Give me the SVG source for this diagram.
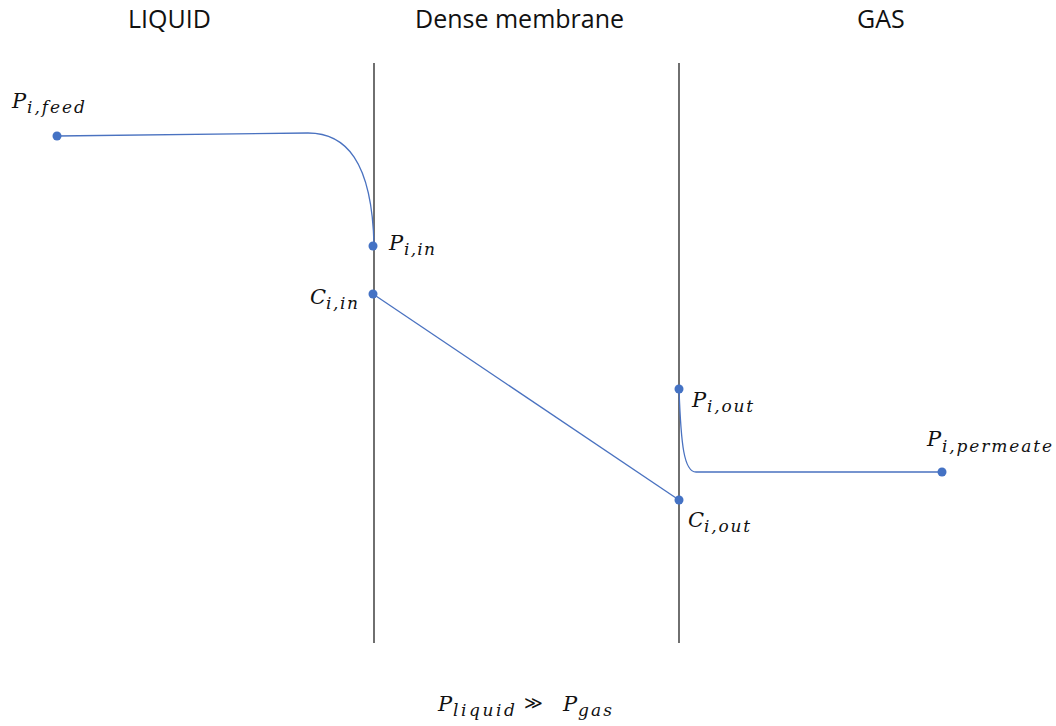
<svg xmlns="http://www.w3.org/2000/svg" width="1056" height="726" viewBox="0 0 1056 726">
<style>
.hdr{font-family:"Open Sans","Noto Sans",sans-serif;font-size:25px;fill:#111}
.m{font-family:"DejaVu Serif","Liberation Serif",serif;font-style:italic;font-size:21px;fill:#111}
.s{font-size:17px}
.wall{stroke:#222;stroke-width:1.3;fill:none}
.curve{stroke:#4a72c0;stroke-width:1.3;fill:none}
.dot{fill:#4472c4}
</style>
<rect width="1056" height="726" fill="#fff"/>
<g id="headers">
<text class="hdr" x="128" y="28">LIQUID</text>
<text class="hdr" x="415" y="28">Dense membrane</text>
<text class="hdr" x="857" y="28">GAS</text>
</g>
<g id="walls">
<line class="wall" x1="374" y1="63" x2="374" y2="643"/>
<line class="wall" x1="679" y1="63" x2="679" y2="643"/>
</g>
<g id="connectors">
<path class="curve" d="M57,136 L308,133 C345,133 372,160 374,245"/>
<path class="curve" d="M373,294 L679,500"/>
<path class="curve" d="M679,389 C681,445 684,472 696,472 L942,472"/>
</g>
<g id="n-feed"><circle class="dot" cx="57" cy="136" r="4.5"/><text class="m" x="12" y="108">P</text><text class="m s" x="27" y="113" textLength="58" lengthAdjust="spacing">i,feed</text></g>
<g id="n-pin"><circle class="dot" cx="373" cy="246" r="4.5"/><text class="m" x="389" y="250">P</text><text class="m s" x="404" y="255" textLength="31" lengthAdjust="spacing">i,in</text></g>
<g id="n-cin"><circle class="dot" cx="373" cy="294" r="4.5"/><text class="m" x="310" y="304">C</text><text class="m s" x="326" y="309" textLength="32" lengthAdjust="spacing">i,in</text></g>
<g id="n-pout"><circle class="dot" cx="679" cy="389" r="4.5"/><text class="m" x="692" y="407">P</text><text class="m s" x="707" y="412" textLength="46" lengthAdjust="spacing">i,out</text></g>
<g id="n-cout"><circle class="dot" cx="679" cy="500" r="4.5"/><text class="m" x="688" y="527">C</text><text class="m s" x="704" y="532" textLength="46" lengthAdjust="spacing">i,out</text></g>
<g id="n-perm"><circle class="dot" cx="942" cy="472" r="4.5"/><text class="m" x="927" y="446">P</text><text class="m s" x="942" y="452" textLength="110" lengthAdjust="spacing">i,permeate</text></g>
<g id="caption">
<text class="m" x="438" y="711">P</text><text class="m s" x="453" y="716" textLength="62" lengthAdjust="spacing">liquid</text>
<text x="524" y="709" font-family="DejaVu Sans, sans-serif" font-size="18" fill="#111">≫</text>
<text class="m" x="563" y="711">P</text><text class="m s" x="578" y="716" textLength="34" lengthAdjust="spacing">gas</text>
</g>
</svg>
